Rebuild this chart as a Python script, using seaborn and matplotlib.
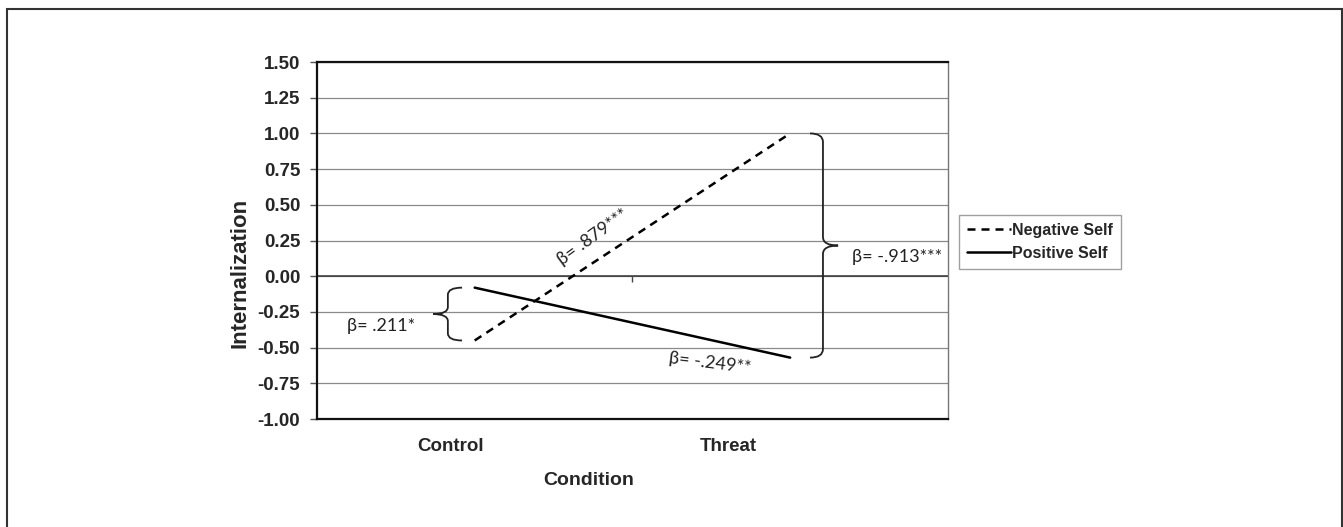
import numpy as np
import pandas as pd
import matplotlib
matplotlib.use('Agg')
import matplotlib.pyplot as plt
import seaborn as sns
from matplotlib.path import Path
from matplotlib.patches import PathPatch, Rectangle
from matplotlib.lines import Line2D
import matplotlib.transforms as mtrans

# ---------------- data ----------------
conditions = ['Control', 'Threat']
series_names = ['Negative Self', 'Positive Self']
negative_self = [-0.45, 1.00]
positive_self = [-0.08, -0.57]
y_ticks = [-1.00, -0.75, -0.50, -0.25, 0.00, 0.25, 0.50, 0.75, 1.00, 1.25, 1.50]
y_tick_labels = ['-1.00', '-0.75', '-0.50', '-0.25', '0.00', '0.25', '0.50', '0.75', '1.00', '1.25', '1.50']
beta_control = 'β= .211*'
beta_negative = 'β= .879***'
beta_positive = 'β= -.249**'
beta_threat = 'β= -.913***'
x_label = 'Condition'
y_label = 'Internalization'

# ---------------- style ----------------
sns.set_theme(style='white')
plt.rcParams['font.family'] = ['Liberation Sans', 'DejaVu Sans']
beta_font = ['Lato', 'DejaVu Sans']

fig = plt.figure(figsize=(13.43, 5.27), dpi=100)
ax = fig.add_axes([0.2360, 0.2049, 0.4698, 0.6774])

x_pos = list(range(len(conditions)))
df = pd.DataFrame({
    'x': x_pos + x_pos,
    'value': negative_self + positive_self,
    'series': [series_names[0]] * 2 + [series_names[1]] * 2,
})
sns.lineplot(data=df, x='x', y='value', style='series',
             dashes={series_names[0]: (3.2, 2.4), series_names[1]: ''},
             color='black', lw=1.8, legend=False, ax=ax)

ax.set_xlim(-0.5, 1.5)
ax.set_ylim(-1.0, 1.5)
ax.set_yticks(y_ticks)
ax.set_yticklabels(y_tick_labels, fontsize=13.5, fontweight='bold')
ax.yaxis.grid(True, color='#8a8a8a', lw=0.9)
ax.xaxis.grid(False)
ax.axhline(0, color='#333333', lw=1.1, zorder=1)
ax.tick_params(axis='y', direction='out', length=5, width=1, color='#555555', pad=7, left=True)

# category labels
ax.set_xticks(x_pos)
ax.set_xticklabels(conditions, fontsize=13.5, fontweight='bold')
ax.tick_params(axis='x', length=0, pad=14)
label_shift_px = [-24, -62]
for lbl, dx in zip(ax.get_xticklabels(), label_shift_px):
    lbl.set_transform(lbl.get_transform() + mtrans.ScaledTranslation(dx / 100, 0, fig.dpi_scale_trans))

ax.set_xlabel(x_label, fontsize=14, fontweight='bold', va='center')
ax.xaxis.set_label_coords(0.431, -0.171)
ax.set_ylabel(y_label, fontsize=16, fontweight='bold', va='center')
ax.yaxis.set_label_coords(-0.122, 0.41)

for side in ['left', 'top', 'bottom']:
    ax.spines[side].set_color('#111111')
    ax.spines[side].set_linewidth(1.6)
ax.spines['right'].set_color('#777777')
ax.spines['right'].set_linewidth(1.0)

# small category-divider tick on the zero line
sec = ax.secondary_xaxis(0.4)
sec.set_xticks([0.5])
sec.set_xticklabels([''])
sec.xaxis.set_ticks_position('bottom')
sec.tick_params(axis='x', direction='out', length=4, width=1, color='#444444')
sec.spines['bottom'].set_visible(False)
sec.spines['top'].set_visible(False)


def brace(ax, y_top, y_bot, x_spine, x_tip, x_end, r):
    ym = (y_top + y_bot) / 2
    verts = [
        (x_end, y_top), (x_spine, y_top), (x_spine, y_top - r),
        (x_spine, ym + r), (x_spine, ym), (x_tip, ym),
        (x_spine, ym), (x_spine, ym - r),
        (x_spine, y_bot + r), (x_spine, y_bot), (x_end, y_bot),
    ]
    codes = [Path.MOVETO, Path.CURVE3, Path.CURVE3,
             Path.LINETO, Path.CURVE3, Path.CURVE3,
             Path.CURVE3, Path.CURVE3,
             Path.LINETO, Path.CURVE3, Path.CURVE3]
    ax.add_patch(PathPatch(Path(verts, codes), fill=False, edgecolor='#222222',
                           lw=1.3, clip_on=False))


brace(ax, positive_self[0], negative_self[0], -0.085, -0.132, -0.04, 0.05)
brace(ax, negative_self[1], positive_self[1], 1.104, 1.152, 1.063, 0.06)

ax.text(-0.297, -0.35, beta_control, fontsize=13, family=beta_font,
        ha='center', va='center', color='#222222')
ax.text(1.196, 0.135, beta_threat, fontsize=13, family=beta_font,
        ha='left', va='center', color='#222222')
ax.text(0.375, 0.275, beta_negative, fontsize=13, family=beta_font,
        ha='center', va='center', rotation=36, rotation_mode='anchor', color='#222222')
ax.text(0.746, -0.605, beta_positive, fontsize=13, family=beta_font,
        ha='center', va='center', rotation=-7, rotation_mode='anchor', color='#222222')

handles = [Line2D([], [], color='black', lw=1.8, dashes=(3.2, 2.4)),
           Line2D([], [], color='black', lw=1.8)]
leg = fig.legend(handles, series_names, loc='upper left', bbox_to_anchor=(0.714, 0.592),
                 borderaxespad=0, frameon=True, fancybox=False, edgecolor='#888888',
                 prop={'size': 11.5, 'weight': 'bold'}, handlelength=2.75,
                 handletextpad=0.1, borderpad=0.5, labelspacing=0.5)
leg.get_frame().set_linewidth(1.0)

# outer frame around figure
fig.patches.append(Rectangle((7 / 1343, -0.01), 1335 / 1343, 1 - 9 / 527 + 0.01,
                             transform=fig.transFigure, fill=False,
                             edgecolor='#333333', lw=1.5))

fig.savefig('out.png', dpi=100, facecolor='white')
